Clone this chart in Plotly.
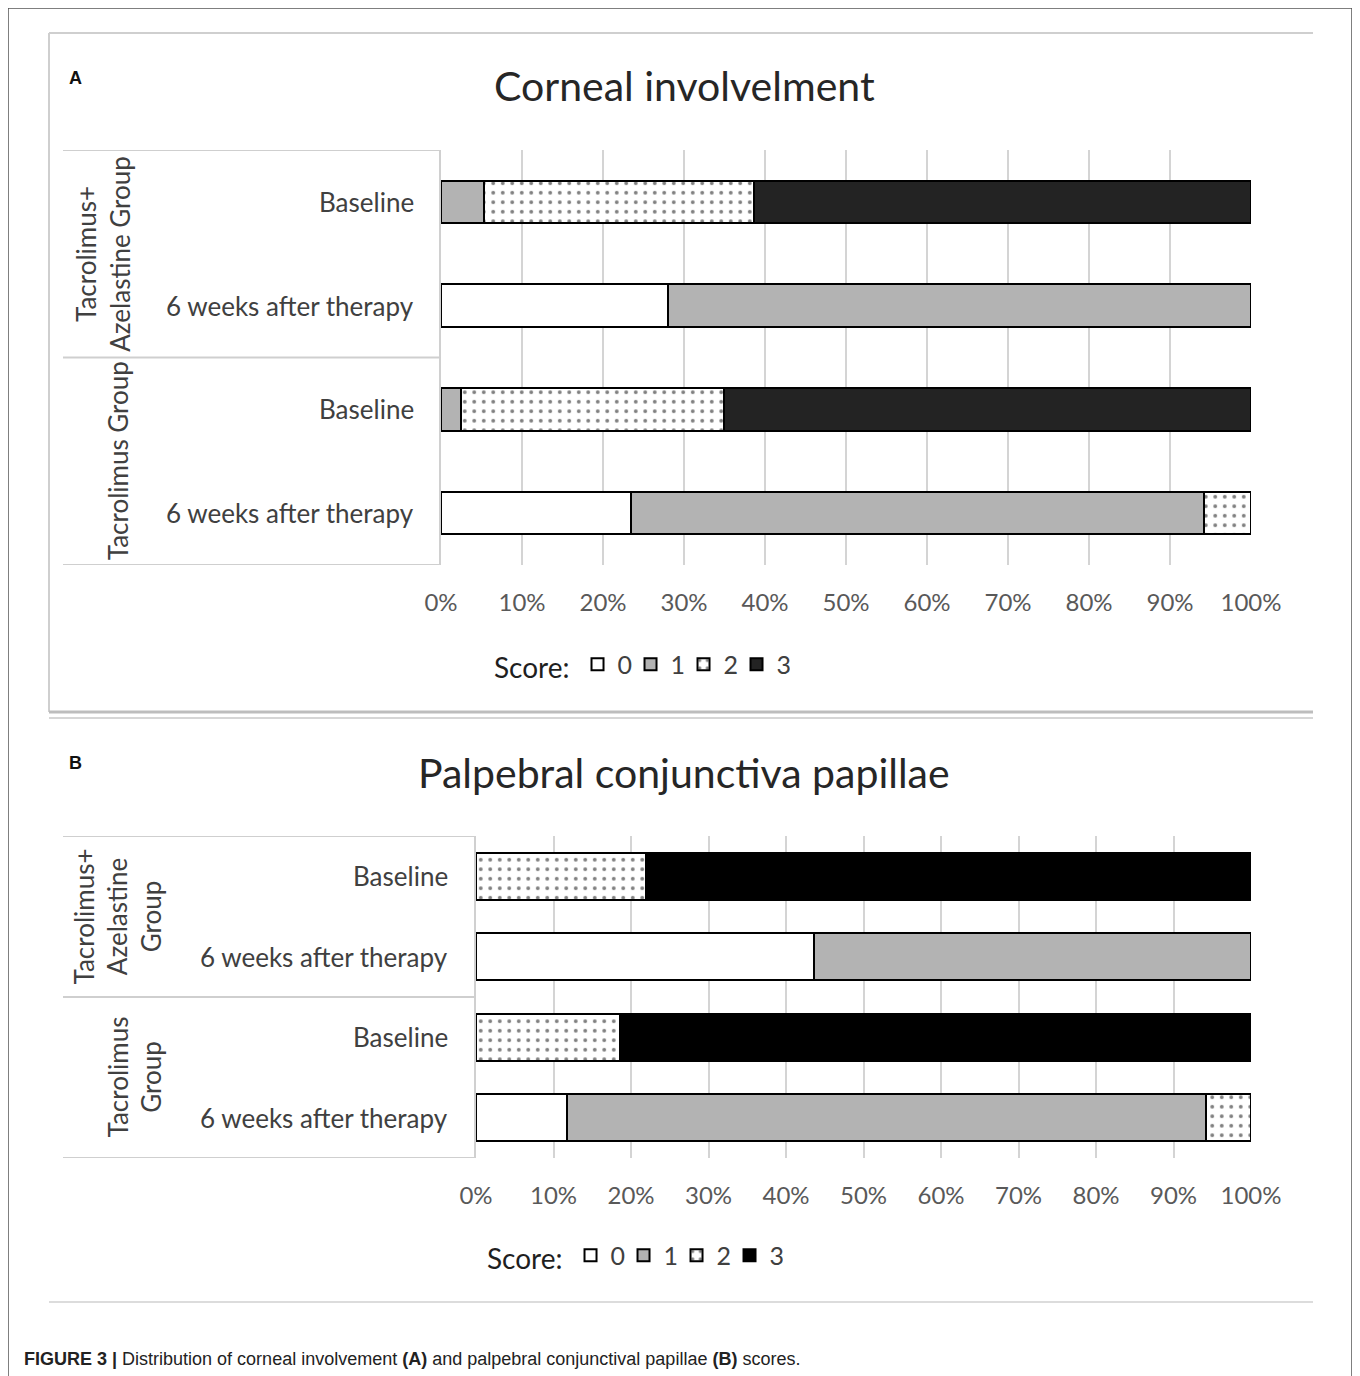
import plotly.graph_objects as go

W, H = 1360, 1376
OFF = 8  # page body margin compensation

# ---------------- data ----------------
row_ids = ["TA_base", "TA_6w", "T_base", "T_6w"]
row_labels = ["Baseline", "6 weeks after therapy", "Baseline", "6 weeks after therapy"]
scores = ["0", "1", "2", "3"]

# Panel A: Corneal involvement (% of eyes per score)
corneal_0 = [0, 28.0, 0, 23.5]
corneal_1 = [5.3, 72.0, 2.5, 70.7]
corneal_2 = [33.3, 0, 32.4, 5.8]
corneal_3 = [61.4, 0, 65.1, 0]

# Panel B: Palpebral conjunctiva papillae (% per score)
papillae_0 = [0, 43.6, 0, 11.7]
papillae_1 = [0, 56.4, 0, 82.5]
papillae_2 = [21.9, 0, 18.6, 5.8]
papillae_3 = [78.1, 0, 81.4, 0]

x_ticks = [0, 0.1, 0.2, 0.3, 0.4, 0.5, 0.6, 0.7, 0.8, 0.9, 1.0]
x_tick_text = ["0%", "10%", "20%", "30%", "40%", "50%", "60%", "70%", "80%", "90%", "100%"]

FONT = "Lato"
def px(x):
    return (x - OFF) / W
def py(y):
    return 1 - (y - OFF) / H

fig = go.Figure()

def add_panel(vals, xa, ya, legend, width, dark):
    styles = [
        dict(color="white"),
        dict(color="#b3b3b3"),
        dict(color="white", pattern=dict(shape=".", fgcolor="black", bgcolor="white", size=9.5, solidity=0.13)),
        dict(color=dark),
    ]
    for s, v, st in zip(scores, vals, styles):
        fig.add_trace(go.Bar(
            x=[a / 100 for a in v], y=row_ids, orientation="h", name=s,
            width=width, xaxis=xa, yaxis=ya, legend=legend,
            marker=dict(line=dict(color="black", width=2), **st),
            hoverinfo="skip",
        ))

add_panel([corneal_0, corneal_1, corneal_2, corneal_3], "x", "y", "legend", 0.41, "#232323")
add_panel([papillae_0, papillae_1, papillae_2, papillae_3], "x2", "y2", "legend2", 0.58, "#000000")

axis_x = dict(range=[0, 1], tickvals=x_ticks, ticktext=x_tick_text, showgrid=True,
              gridcolor="#d4d4d4", gridwidth=2, zeroline=False, showline=False,
              ticks="", ticklabelstandoff=21, automargin=False,
              tickfont=dict(family=FONT, size=24, color="#595959"), fixedrange=True)
axis_y = dict(categoryorder="array", categoryarray=row_ids, range=[3.5, -0.5],
              showticklabels=False, showgrid=False, zeroline=False, automargin=False,
              showline=True, linecolor="#d0d0d0", linewidth=2, ticks="")

leg_common = dict(orientation="h", xanchor="left", yanchor="middle",
                  title=dict(text="Score:", side="left", font=dict(family=FONT, size=28, color="#1f1f1f")),
                  font=dict(family=FONT, size=25, color="#404040"), entrywidth=8,
                  itemwidth=30, bgcolor="rgba(0,0,0,0)", traceorder="normal")

fig.update_layout(
    width=W, height=H, margin=dict(l=0, r=0, t=0, b=0, autoexpand=False),
    paper_bgcolor="white", plot_bgcolor="white", barmode="stack", bargap=0,
    xaxis=dict(domain=[px(441), px(1251)], anchor="y", **axis_x),
    yaxis=dict(domain=[py(565), py(150)], anchor="x", **axis_y),
    xaxis2=dict(domain=[px(476), px(1251)], anchor="y2", **axis_x),
    yaxis2=dict(domain=[py(1158), py(836)], anchor="x2", **axis_y),
    legend=dict(x=px(492), y=py(665), **leg_common),
    legend2=dict(x=px(485), y=py(1256), **leg_common),
)

ann = []
# titles
ann.append(dict(text="Corneal involvelment", x=px(684), y=py(85), xref="paper", yref="paper",
                showarrow=False, xanchor="center", yanchor="middle",
                font=dict(family=FONT, size=41, color="#262626")))
ann.append(dict(text="Palpebral conjunctiva papillae", x=px(684), y=py(772), xref="paper", yref="paper",
                showarrow=False, xanchor="center", yanchor="middle",
                font=dict(family=FONT, size=41, color="#262626")))
# panel letters
for letter, yy in [("A", 78), ("B", 763)]:
    ann.append(dict(text="<b>%s</b>" % letter, x=px(75), y=py(yy), xref="paper", yref="paper",
                    showarrow=False, xanchor="center", yanchor="middle",
                    font=dict(family="Liberation Sans", size=18, color="#111111")))
# row labels
for yref, xr in [("y", 416), ("y2", 450)]:
    for rid, lab in zip(row_ids, row_labels):
        ann.append(dict(text=lab, x=px(xr), y=rid, xref="paper", yref=yref, showarrow=False,
                        xanchor="right", yanchor="middle",
                        font=dict(family=FONT, size=26, color="#404040")))
# group labels (rotated)
groups = [
    ("y", 0.5, 103, "Tacrolimus+<br>Azelastine Group"),
    ("y", 2.5, 118, "Tacrolimus Group"),
    ("y2", 0.5, 117, "Tacrolimus+<br>Azelastine<br>Group"),
    ("y2", 2.5, 134, "Tacrolimus<br>Group"),
]
for yref, yy, xx, txt in groups:
    ann.append(dict(text=txt, x=px(xx), y=yy, xref="paper", yref=yref, showarrow=False,
                    xanchor="center", yanchor="middle", textangle=-90,
                    font=dict(family=FONT, size=26, color="#404040")))
# caption
ann.append(dict(text="<b>FIGURE 3 |</b> Distribution of corneal involvement <b>(A)</b> and palpebral conjunctival papillae <b>(B)</b> scores.",
                x=px(22), y=py(1359), xref="paper", yref="paper", showarrow=False,
                xanchor="left", yanchor="middle",
                font=dict(family="Liberation Sans", size=18, color="#222222")))
fig.update_layout(annotations=ann)

shapes = []
gray = "#cfcfcf"
# outer frame
shapes.append(dict(type="rect", xref="paper", yref="paper", x0=px(8), x1=px(1352), y0=py(1400), y1=py(8),
                   line=dict(color="#555555", width=1.5)))
# panel A box lines
shapes.append(dict(type="line", xref="paper", yref="paper", x0=px(49), x1=px(1313), y0=py(33), y1=py(33),
                   line=dict(color=gray, width=2)))
shapes.append(dict(type="line", xref="paper", yref="paper", x0=px(49), x1=px(49), y0=py(33), y1=py(712),
                   line=dict(color=gray, width=2)))
shapes.append(dict(type="line", xref="paper", yref="paper", x0=px(49), x1=px(1313), y0=py(712), y1=py(712),
                   line=dict(color="#bdbdbd", width=3)))
shapes.append(dict(type="line", xref="paper", yref="paper", x0=px(49), x1=px(1313), y0=py(718), y1=py(718),
                   line=dict(color="#d6d6d6", width=2)))
shapes.append(dict(type="line", xref="paper", yref="paper", x0=px(49), x1=px(1313), y0=py(1302), y1=py(1302),
                   line=dict(color="#d0d0d0", width=1.5)))
# table lines left of bars
for yref, x0, x1 in [("y", 63, 441), ("y2", 63, 476)]:
    for yy in [-0.5, 1.5, 3.5]:
        shapes.append(dict(type="line", xref="paper", yref=yref, x0=px(x0), x1=px(x1), y0=yy, y1=yy,
                           line=dict(color=gray, width=2)))
fig.update_layout(shapes=shapes)

fig.write_html("out.html")
